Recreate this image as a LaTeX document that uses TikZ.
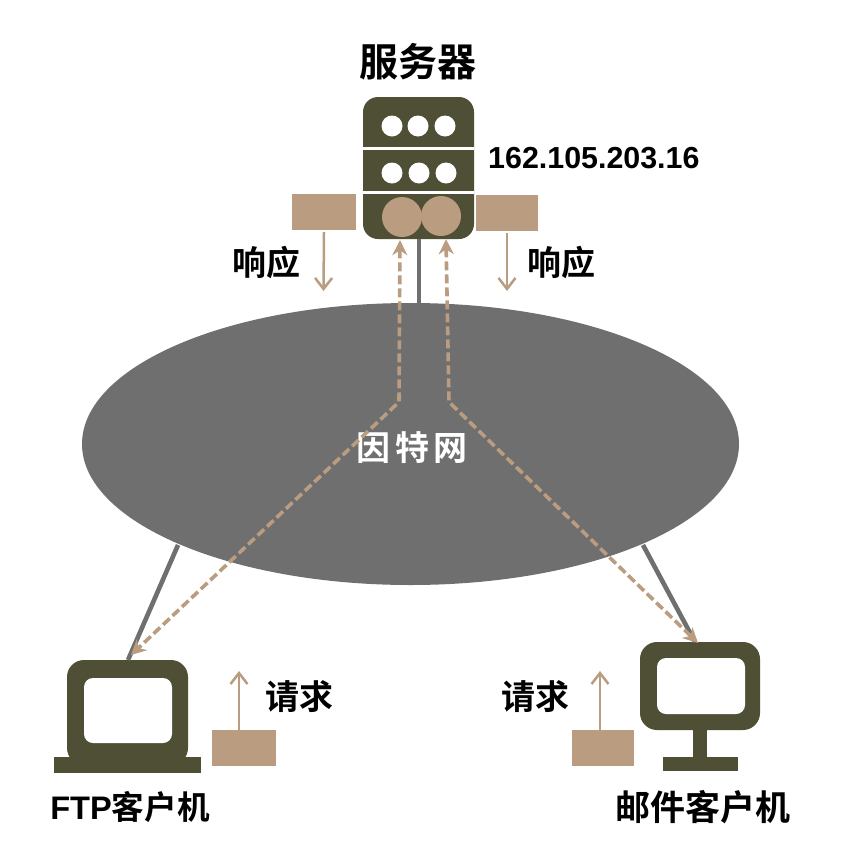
\documentclass[tikz,border=0pt]{standalone}
\usepackage{fontspec}
\setmainfont{Liberation Sans}
\newfontfamily\cjk{Noto Sans CJK SC}[BoldFont={* Bold}]
\usetikzlibrary{arrows.meta,positioning,shapes.geometric}
\definecolor{olive}{HTML}{4E4F35}
\definecolor{tan}{HTML}{BA9C80}
\definecolor{netgrey}{HTML}{6F6F6F}
\tikzset{
  x=1pt,y=-1pt,
  box/.style={fill=olive,draw=none},
  packet/.style={fill=tan,draw=none,inner sep=0pt,minimum width=#1,minimum height=36pt},
  packet/.default=63pt,
  whitedot/.style={circle,fill=white,minimum size=21pt,inner sep=0pt},
  port/.style={circle,fill=tan,minimum size=40pt,inner sep=0pt},
  link/.style={draw=netgrey,line width=4.6pt},
  flow/.style={draw=tan,line width=3.6pt,dash pattern=on 9pt off 4pt,{Stealth[length=15pt,width=15pt,fill=tan]}-{Stealth[length=15pt,width=15pt,fill=tan]}},
  move/.style={draw=tan,line width=2.5pt,-{Straight Barb[length=11pt,width=17pt,line width=2.5pt]}},
  lbl/.style={font=\cjk\bfseries\fontsize{#1}{#1}\selectfont,text=black,inner sep=0pt},
  lbl/.default=34pt
}
\begin{document}
\begin{tikzpicture}
\useasboundingbox (0,0) rectangle (850,852);
\fill[white] (0,0) rectangle (850,852);
% network
\node[ellipse,fill=netgrey,minimum width=657pt,minimum height=282pt,inner sep=0pt] (net) at (410.5,444) {};
\node[font=\cjk\bfseries\fontsize{34pt}{34pt}\selectfont,text=white,inner sep=0pt] (nettext) at (412,448) {因\hspace{5pt}特\hspace{5pt}网};
% server
\fill[box,rounded corners=15pt] (363,97) rectangle (474,239);
\node[inner sep=0pt,minimum size=0pt] (srv) at (419,239) {};
\draw[white,line width=3pt] (363,148) -- (474,148) (363,192) -- (474,192);
\foreach \n/\x/\y in {a/392/126,b/418/126,c/445/126,d/392/173,e/419/173,f/446/173}
  \node[whitedot] (dot\n) at (\x,\y) {};
\node[port] (portl) at (402,217) {};
\node[port] (portr) at (441,216) {};
\node[lbl=39pt] (srvname) at (418,62) {服务器};
\node[font=\bfseries\fontsize{30.4pt}{31pt}\selectfont,inner sep=0pt,anchor=west] (ip) at (488,158) {162.105.203.16};
\node[packet=64pt] (rl) at (324,212) {};
\node[packet=62pt] (rr) at (507,213) {};
\coordinate (rlend) at (323.5,291);
\coordinate (rrend) at (507,291);
\draw[move] (rl.south) ++(0,2) -- (rlend);
\draw[move] (rr.south) ++(0,2) -- (rrend);
\node[lbl=34pt] (resl) at (266,263) {响应};
\node[lbl=34pt] (resr) at (561,263) {响应};
% laptop
\fill[box,rounded corners=17pt] (67,660) rectangle (188,765);
\fill[white,rounded corners=9pt] (84,678) rectangle (172,743);
\fill[box] (54,757) rectangle (201,773);
\coordinate (lap) at (128,660);
% desktop
\fill[box,rounded corners=17pt] (640,642) rectangle (760,730);
\fill[white,rounded corners=9pt] (657,658) rectangle (745,714);
\fill[box] (693,728) rectangle (707,758);
\fill[box] (663,757) rectangle (738,771);
\coordinate (desk) at (695,642);
% links
\coordinate (netbl) at (178,545);
\coordinate (netbr) at (643,545);
\draw[link] (srv.center) -- (419,303);
\draw[link] (netbl) -- (lap);
\draw[link] (netbr) -- (desk);
% flows
\coordinate (bendl) at (399,402);
\coordinate (bendr) at (449,402);
\draw[flow] (portl.south) ++(-2,3) -- (bendl) -- (131,655);
\draw[flow] (portr.south) ++(5,3) -- (bendr) -- (698,643);
% requests
\node[packet=64pt] (ql) at (244,748) {};
\node[packet=62pt] (qr) at (603,748) {};
\coordinate (qlend) at (239,671);
\coordinate (qrend) at (600,671);
\draw[move] (239,730) -- (qlend);
\draw[move] (600,730) -- (qrend);
\node[lbl=34pt] (reql) at (299,697) {请求};
\node[lbl=34pt] (reqr) at (535,697) {请求};
\node[font=\cjk\bfseries\fontsize{32.6pt}{33pt}\selectfont,inner sep=0pt] (ftp) at (130,807) {{\rmfamily\bfseries FTP}客户机};
\node[lbl=35pt] (mail) at (703,807) {邮件客户机};
\end{tikzpicture}
\end{document}
